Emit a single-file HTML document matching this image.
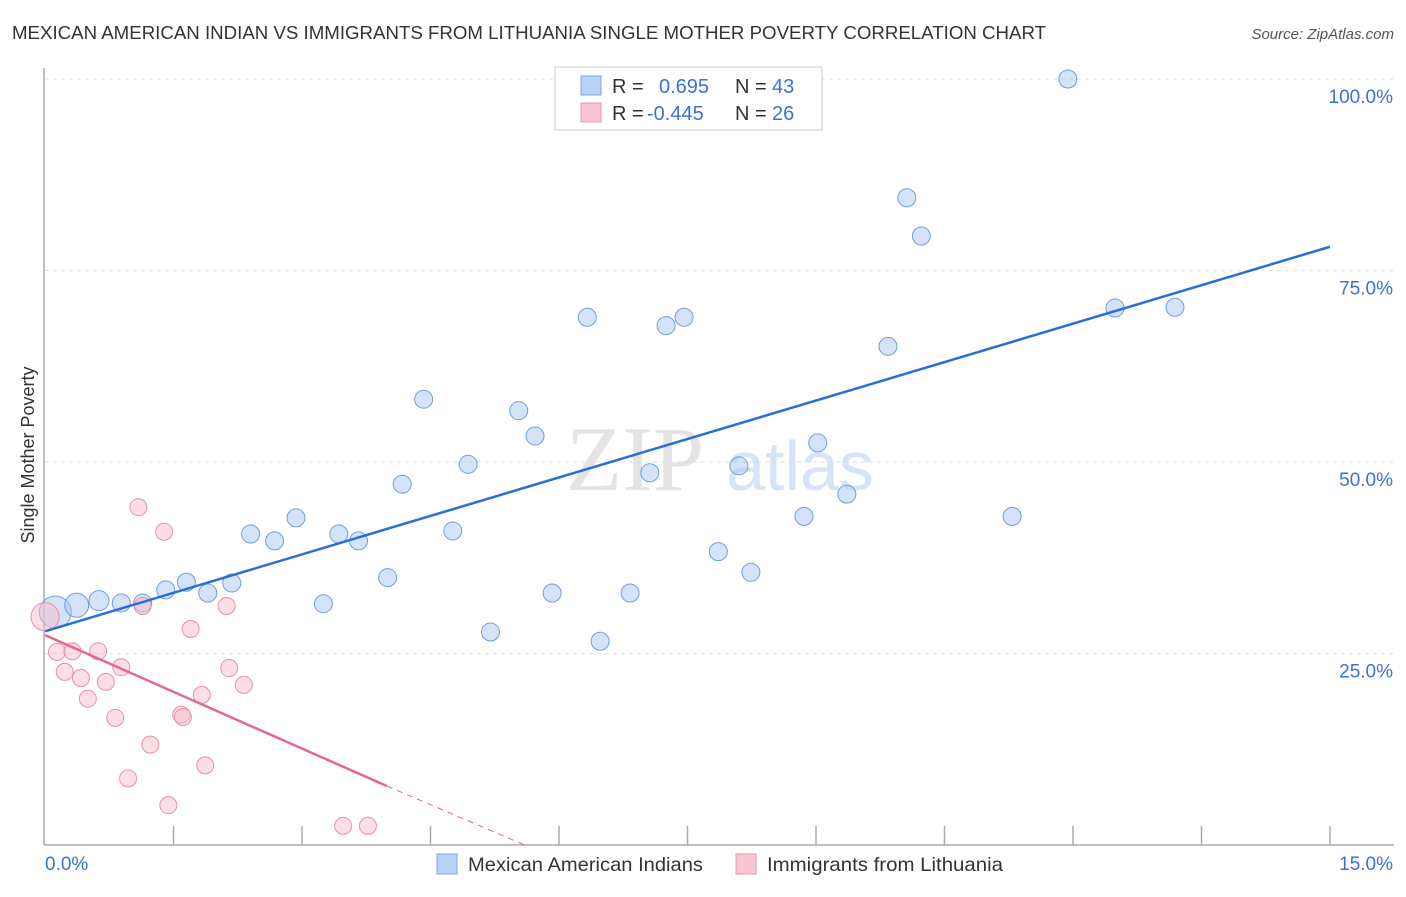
<!DOCTYPE html>
<html><head><meta charset="utf-8"><style>
body{margin:0;background:#fff;font-family:"Liberation Sans",sans-serif}
</style></head><body>
<svg width="1406" height="892" xmlns="http://www.w3.org/2000/svg">
<text x="12" y="39" font-size="18.5" fill="#333" textLength="1034" lengthAdjust="spacingAndGlyphs">MEXICAN AMERICAN INDIAN VS IMMIGRANTS FROM LITHUANIA SINGLE MOTHER POVERTY CORRELATION CHART</text>
<text x="1394" y="39" font-size="15" fill="#555" font-style="italic" text-anchor="end">Source: ZipAtlas.com</text>
<text x="34" y="455" font-size="18" fill="#333" text-anchor="middle" transform="rotate(-90 34 455)">Single Mother Poverty</text>
<g>
<text x="635" y="490" font-size="92" fill="#e4e4e4" font-family="Liberation Serif" text-anchor="middle">ZIP</text>
<text x="800" y="490" font-size="70" fill="#d6e4f5" text-anchor="middle">atlas</text>
</g>
<g id="grid"></g><g id="axes"></g><g id="marks"></g>
<g>
<rect x="555" y="67" width="267" height="63" fill="#fff" stroke="#ccc"/>
<rect x="581" y="76" width="20" height="19" fill="#b8d3f5" stroke="#7aa6e0"/>
<rect x="581" y="103" width="20" height="19" fill="#f9c6d4" stroke="#eb95ad"/>
<text x="612" y="93" font-size="20" fill="#333">R =</text>
<text x="659" y="93" font-size="20" fill="#3a72d4">0.695</text>
<text x="735" y="93" font-size="20" fill="#333">N =</text>
<text x="772" y="93" font-size="20" fill="#3a72d4">43</text>
<text x="612" y="120" font-size="20" fill="#333">R =</text>
<text x="647" y="120" font-size="20" fill="#3a72d4">-0.445</text>
<text x="735" y="120" font-size="20" fill="#333">N =</text>
<text x="772" y="120" font-size="20" fill="#3a72d4">26</text>
</g>
<g>
<rect x="437" y="854" width="20" height="20" fill="#b8d3f5" stroke="#7aa6e0"/>
<text x="468" y="871" font-size="19.5" fill="#333" textLength="235" lengthAdjust="spacingAndGlyphs">Mexican American Indians</text>
<rect x="736" y="854" width="20" height="20" fill="#f9c6d4" stroke="#eb95ad"/>
<text x="767" y="871" font-size="19.5" fill="#333" textLength="236" lengthAdjust="spacingAndGlyphs">Immigrants from Lithuania</text>
</g>
</svg>
<script>
const blueX=[0.12,0.37,0.63,0.89,1.14,1.41,1.65,1.90,2.18,2.40,2.68,2.93,3.25,3.43,3.66,4.00,4.17,4.42,4.76,4.94,5.20,5.53,5.72,5.92,6.33,6.48,6.83,7.06,7.25,7.46,7.86,8.10,8.24,8.86,9.02,9.36,9.84,10.06,10.23,11.29,11.94,12.49,13.19];
const blueY=[30.4,31.3,31.9,31.6,31.6,33.3,34.3,32.9,34.2,40.6,39.7,42.7,31.5,40.6,39.7,34.9,47.1,58.2,41.0,49.7,27.8,56.7,53.4,32.9,68.9,26.6,32.9,48.6,67.8,68.9,38.3,49.5,35.6,42.9,52.5,45.8,65.1,84.5,79.5,42.9,100,70.1,70.2];
const blueR=[16,12,10,9,9,9,9,9,9,9,9,9,9,9,9,9,9,9,9,9,9,9,9,9,9,9,9,9,9,9,9,9,9,9,9,9,9,9,9,9,9,9,9];
const pinkX=[0.0,0.14,0.23,0.32,0.42,0.50,0.62,0.71,0.82,0.89,0.97,1.14,1.23,1.44,1.39,1.09,1.59,1.61,1.70,1.83,1.87,2.12,2.15,2.32,3.48,3.77];
const pinkY=[29.8,25.2,22.6,25.3,21.8,19.1,25.3,21.3,16.6,23.2,8.7,31.2,13.1,5.2,40.9,44.1,17.0,16.7,28.2,19.6,10.4,31.2,23.1,20.9,2.5,2.5];
const pinkR=[14,8.5,8.5,8.5,8.5,8.5,8.5,8.5,8.5,8.5,8.5,8.5,8.5,8.5,8.5,8.5,8.5,8.5,8.5,8.5,8.5,8.5,8.5,8.5,8.5,8.5];
const yTicks=[25,50,75,100];
const yTickLabels=["25.0%","50.0%","75.0%","100.0%"];
const blueTrend=[27.9,78.1];
const pinkTrend=[27.4,7.7,3.99,5.6];
const NS="http://www.w3.org/2000/svg";
const sx=v=>45+v/15*1285, sy=v=>845-v/100*766;
function mk(tag,at,parent){const e=document.createElementNS(NS,tag);for(const k in at)e.setAttribute(k,at[k]);document.getElementById(parent).appendChild(e);return e;}
yTicks.forEach((t,i)=>{
 const l=mk('line',{x1:45,x2:1394,y1:sy(t),y2:sy(t),stroke:'#ddd','stroke-dasharray':'4 4'},'grid');
 
 
 const tx=mk('text',{x:1393,y:sy(t)+24,'font-size':19,fill:'#3a72d4','text-anchor':'end'},'grid');
 tx.textContent=yTickLabels[i];
 
 
});
let a=mk('line',{x1:44,x2:44,y1:68,y2:845,stroke:'#aaa','stroke-width':1.5},'axes');


a=mk('line',{x1:44,x2:1394,y1:845,y2:845,stroke:'#aaa','stroke-width':1.5},'axes');


for(let i=1;i<=10;i++){const t=mk('line',{x1:sx(i*1.5),x2:sx(i*1.5),y1:826,y2:845,stroke:'#aaa','stroke-width':1.5},'axes');
 
 }
let xl=mk('text',{x:45,y:870,'font-size':19,fill:'#3a72d4'},'axes');xl.textContent='0.0%';


xl=mk('text',{x:1393,y:870,'font-size':19,fill:'#3a72d4','text-anchor':'end'},'axes');xl.textContent='15.0%';


blueX.forEach((v,i)=>{const c=mk('circle',{cx:sx(v),cy:sy(blueY[i]),r:blueR[i],fill:'rgba(170,200,240,0.5)',stroke:'#6f9fdf','stroke-width':1},'marks');
 
 });
pinkX.forEach((v,i)=>{const c=mk('circle',{cx:sx(v),cy:sy(pinkY[i]),r:pinkR[i],fill:'rgba(248,190,206,0.5)',stroke:'#e990a9','stroke-width':1},'marks');
 
 });
let tl=mk('line',{x1:sx(0),y1:sy(blueTrend[0]),x2:sx(15),y2:sy(blueTrend[1]),stroke:'#2a6fd6','stroke-width':2.5},'marks');


tl=mk('line',{x1:sx(0),y1:sy(pinkTrend[0]),x2:sx(pinkTrend[2]),y2:sy(pinkTrend[1]),stroke:'#e56690','stroke-width':2.5},'marks');


tl=mk('line',{x1:sx(pinkTrend[2]),y1:sy(pinkTrend[1]),x2:sx(pinkTrend[3]),y2:sy(0),stroke:'#e56690','stroke-width':1,'stroke-dasharray':'6 5'},'marks');


</script>
</body></html>
